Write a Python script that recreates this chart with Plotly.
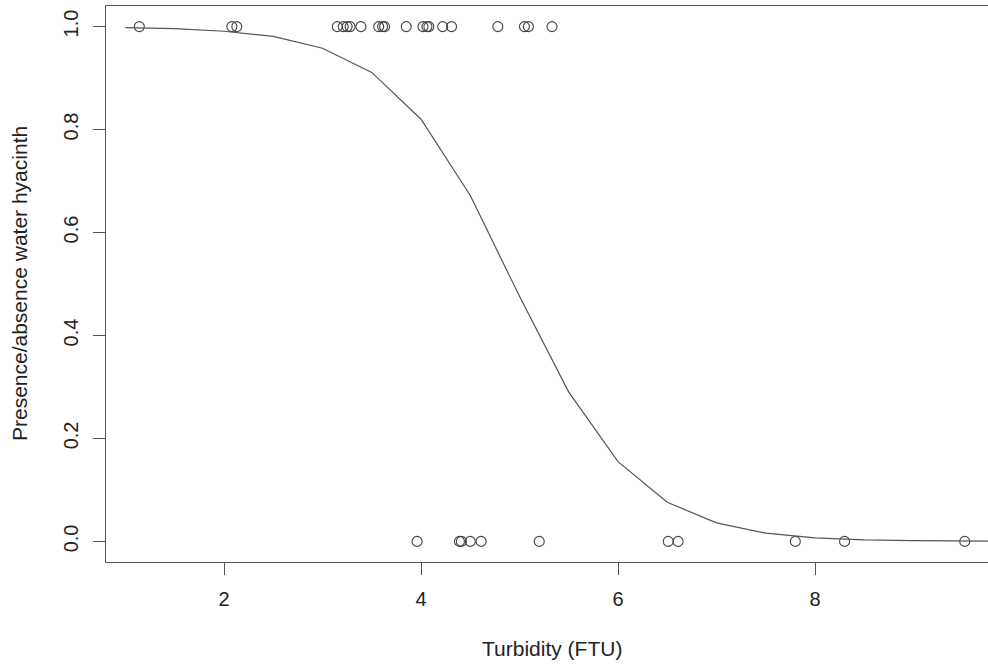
import plotly.graph_objects as go

present_turbidity = [1.14, 2.08, 2.13, 3.15, 3.21, 3.25, 3.28, 3.39, 3.57, 3.61, 3.63,
                     3.85, 4.02, 4.06, 4.08, 4.22, 4.31, 4.78, 5.05, 5.09, 5.33]
absent_turbidity = [3.96, 4.39, 4.41, 4.50, 4.61, 5.20, 6.51, 6.61, 7.80, 8.30, 9.52]

turbidity = present_turbidity + absent_turbidity
presence = [1] * len(present_turbidity) + [0] * len(absent_turbidity)

# Fitted curve as drawn (vertices)
curve_x = [1.0, 1.5, 2.0, 2.5, 3.0, 3.5, 4.0, 4.5, 5.0, 5.5, 6.0, 6.5, 7.0,
           7.5, 8.0, 8.5, 9.0, 9.5, 10.0]
curve_y = [0.998, 0.996, 0.991, 0.981, 0.958, 0.911, 0.820, 0.672, 0.476, 0.290,
           0.155, 0.076, 0.036, 0.016, 0.007, 0.003, 0.0014, 0.0006, 0.0003]

x_ticks = [2, 4, 6, 8]
y_ticks = [0.0, 0.2, 0.4, 0.6, 0.8, 1.0]

FONT = "Liberation Sans, Arial, Helvetica, sans-serif"
TXT = "#222222"
LINE = "#555555"

fig = go.Figure()
fig.add_trace(go.Scatter(
    x=turbidity, y=presence, mode="markers",
    marker=dict(symbol="circle-open", size=10, color="#444444", line=dict(width=1.1)),
    showlegend=False, hoverinfo="x+y"))
fig.add_trace(go.Scatter(
    x=curve_x, y=curve_y, mode="lines",
    line=dict(color="#555555", width=1.2), showlegend=False))

fig.update_layout(
    width=988, height=666,
    margin=dict(l=106, r=0, t=6, b=104),
    paper_bgcolor="white", plot_bgcolor="white",
    font=dict(family=FONT, size=20, color=TXT),
    xaxis=dict(range=[0.802, 9.756], tickvals=x_ticks, ticktext=[str(v) for v in x_ticks],
               showgrid=False, zeroline=False, showline=True, linecolor=LINE, linewidth=1,
               mirror=True, ticks="outside", ticklen=12, tickcolor=LINE, tickwidth=1,
               ticklabelstandoff=7, tickfont=dict(size=20, color=TXT)),
    yaxis=dict(range=[-0.04, 1.04], tickvals=y_ticks, ticktext=[f"{v:.1f}" for v in y_ticks],
               showgrid=False, zeroline=False, showline=True, linecolor=LINE, linewidth=1,
               mirror=False, ticks="outside", ticklen=12, tickcolor=LINE, tickwidth=1,
               tickangle=-90, ticklabelstandoff=7, tickfont=dict(size=20, color=TXT)),
    annotations=[
        dict(text="Turbidity (FTU)", xref="paper", yref="paper", x=0.5057, y=-0.1547,
             xanchor="center", yanchor="middle", showarrow=False,
             font=dict(size=21, color=TXT, family=FONT)),
        dict(text="Presence/absence water hyacinth", xref="paper", yref="paper",
             x=-0.0986, y=0.5, xanchor="center", yanchor="middle", textangle=-90,
             showarrow=False, font=dict(size=21, color=TXT, family=FONT)),
    ],
)

fig.write_html("out.html")
